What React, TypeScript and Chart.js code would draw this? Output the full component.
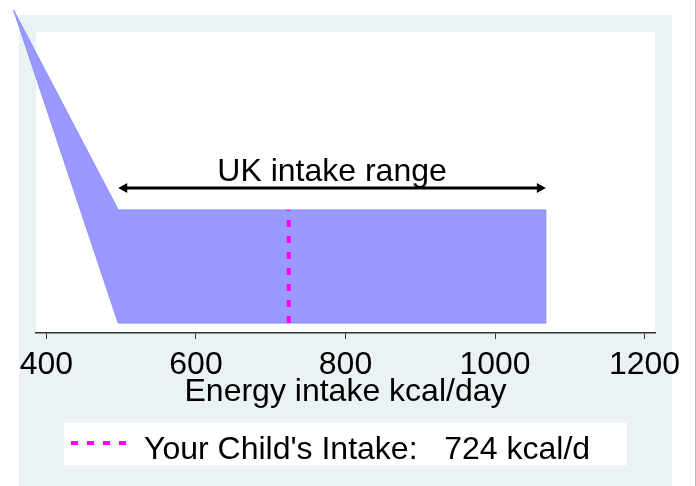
import React, { useEffect, useRef } from "react";
import { Chart, registerables } from "chart.js";

Chart.register(...registerables);

// ---- data ----
const rangeX = [356, 496, 1068];
const rangeUpper = [107.3, 40.9, 40.9];
const rangeLower = [107.3, 3.3, 3.3];
const childIntake = 724;
const tickValues = [400, 600, 800, 1000, 1200];
const rangeLabel = "UK intake range";
const arrowY = 48.2;
const labelY = 50.6;
const xTitle = "Energy intake kcal/day";
const legendText = `Your Child's Intake:   ${childIntake} kcal/d`;

const FONT = "'Liberation Sans', Arial, Helvetica, sans-serif";
const BG = "#EAF2F3";
const FILL = "rgb(153,153,255)";
const EDGE = "rgb(138,138,255)";
const MAGENTA = "#FF00FF";

const decor = {
  id: "decor",
  beforeDraw(chart: any) {
    const { ctx, chartArea: a } = chart;
    ctx.save();
    ctx.fillStyle = "#fff";
    ctx.fillRect(0, 0, chart.width, chart.height);
    ctx.fillStyle = BG;
    ctx.fillRect(19, 15, 653, chart.height - 15);
    ctx.fillStyle = "#fff";
    ctx.fillRect(a.left, a.top, a.right - a.left, a.bottom - a.top);
    ctx.fillRect(64, 423, 563, 42);
    ctx.fillStyle = "#b8b8b8";
    ctx.fillRect(chart.width - 1, 0, 1, chart.height);
    ctx.restore();
  },
  beforeDatasetsDraw(chart: any) {
    // rarea fill between the upper and lower bound datasets (unclipped, like the reference)
    const { ctx } = chart;
    const up = chart.getDatasetMeta(0).data;
    const lo = chart.getDatasetMeta(1).data;
    ctx.save();
    ctx.fillStyle = FILL;
    ctx.beginPath();
    up.forEach((p: any, i: number) => (i ? ctx.lineTo(p.x, p.y) : ctx.moveTo(p.x, p.y)));
    for (let i = lo.length - 1; i >= 0; i--) ctx.lineTo(lo[i].x, lo[i].y);
    ctx.closePath();
    ctx.fill();
    ctx.restore();
  },
  afterDatasetsDraw(chart: any) {
    const { ctx } = chart;
    const x = chart.scales.x;
    const y = chart.scales.y;
    const x1 = x.getPixelForValue(rangeX[1]);
    const x2 = x.getPixelForValue(rangeX[2]);
    const yy = y.getPixelForValue(arrowY);
    ctx.save();
    ctx.strokeStyle = "#000";
    ctx.fillStyle = "#000";
    ctx.lineWidth = 3;
    ctx.beginPath();
    ctx.moveTo(x1 + 5, yy);
    ctx.lineTo(x2 - 5, yy);
    ctx.stroke();
    const head = (tip: number, dir: number) => {
      ctx.beginPath();
      ctx.moveTo(tip, yy);
      ctx.lineTo(tip + dir * 9, yy - 5);
      ctx.lineTo(tip + dir * 9, yy + 5);
      ctx.closePath();
      ctx.fill();
    };
    head(x1, 1);
    head(x2, -1);
    ctx.font = `32px ${FONT}`;
    ctx.textAlign = "center";
    ctx.textBaseline = "alphabetic";
    ctx.fillText(rangeLabel, (x1 + x2) / 2, y.getPixelForValue(labelY));
    ctx.restore();
  },
  afterDraw(chart: any) {
    const { ctx } = chart;
    ctx.save();
    ctx.strokeStyle = MAGENTA;
    ctx.lineWidth = 4;
    ctx.setLineDash([7, 9]);
    ctx.beginPath();
    ctx.moveTo(71, 443);
    ctx.lineTo(126, 443);
    ctx.stroke();
    ctx.setLineDash([]);
    ctx.fillStyle = "#000";
    ctx.font = `32px ${FONT}`;
    ctx.textAlign = "left";
    ctx.textBaseline = "alphabetic";
    ctx.fillText(legendText, 144, 459);
    ctx.restore();
  },
};

export default function App() {
  const ref = useRef<HTMLCanvasElement | null>(null);
  useEffect(() => {
    document.body.style.margin = "0";
    const canvas = ref.current!;
    const pts = (ys: number[]) => rangeX.map((v, i) => ({ x: v, y: ys[i] }));
    const last = rangeX.length - 1;
    const chart = new Chart(canvas, {
      type: "line",
      data: {
        datasets: [
          {
            data: pts(rangeUpper),
            fill: false,
            borderColor: EDGE,
            borderWidth: 1,
            pointRadius: 0,
            tension: 0,
            clip: false,
            order: 2,
          },
          {
            data: pts(rangeLower),
            fill: false,
            borderColor: EDGE,
            borderWidth: 1,
            pointRadius: 0,
            tension: 0,
            clip: false,
            order: 2,
          },
          {
            data: [
              { x: rangeX[last], y: rangeLower[last] },
              { x: rangeX[last], y: rangeUpper[last] },
            ],
            fill: false,
            borderColor: EDGE,
            borderWidth: 1,
            pointRadius: 0,
            clip: false,
            order: 2,
          },
          {
            data: [
              { x: childIntake, y: rangeLower[1] },
              { x: childIntake, y: rangeUpper[1] },
            ],
            fill: false,
            borderColor: MAGENTA,
            borderWidth: 4,
            borderDash: [7, 9],
            pointRadius: 0,
            order: 0,
          },
        ],
      },
      options: {
        animation: false,
        responsive: false,
        layout: { padding: { left: 36, right: 41, top: 32, bottom: 0 } },
        plugins: { legend: { display: false }, tooltip: { enabled: false } },
        scales: {
          x: {
            type: "linear",
            min: 386,
            max: 1214,
            afterBuildTicks: (s: any) => {
              s.ticks = tickValues.map((v) => ({ value: v }));
            },
            afterFit: (s: any) => {
              s.height = 153;
            },
            border: { display: true, color: "#333", width: 1.5 },
            grid: { drawOnChartArea: false, drawTicks: true, tickLength: 6, color: "#333", lineWidth: 1 },
            ticks: {
              color: "#000",
              padding: 7,
              maxRotation: 0,
              autoSkip: false,
              font: { family: FONT, size: 32 },
              callback: (v: any) => String(v),
            },
            title: {
              display: true,
              text: xTitle,
              color: "#000",
              font: { family: FONT, size: 32 },
              padding: { top: 0, bottom: 75 },
            },
          },
          y: { type: "linear", display: false, min: 0, max: 100 },
        },
      },
      plugins: [decor],
    });
    return () => chart.destroy();
  }, []);
  return (
    <div style={{ width: 696, height: 486 }}>
      <canvas ref={ref} width={696} height={486} style={{ display: "block" }} />
    </div>
  );
}
